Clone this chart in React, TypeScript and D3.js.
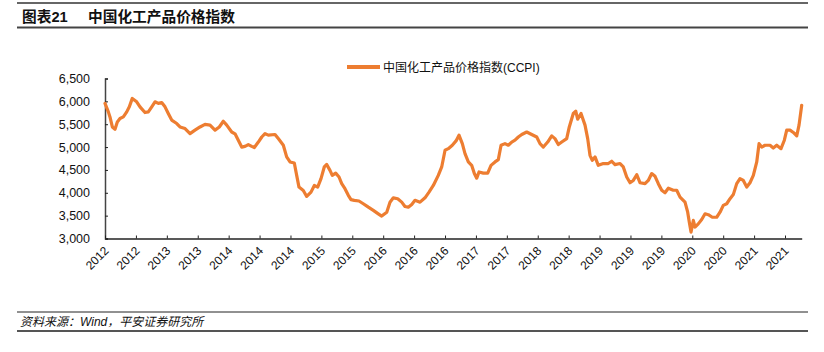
import { useEffect, useRef } from 'react';
import * as d3 from 'd3';

const TITLE_NO = '图表21';
const TITLE = '中国化工产品价格指数';
const SERIES_NAME = '中国化工产品价格指数(CCPI)';
const SOURCE = '资料来源：Wind，平安证券研究所';

const Y_TICKS = [3000, 3500, 4000, 4500, 5000, 5500, 6000, 6500];

const TICK_MONTHS = [
  '2012-05', '2012-10', '2013-03', '2013-08', '2014-01', '2014-06', '2014-11',
  '2015-04', '2015-09', '2016-02', '2016-07', '2016-12', '2017-05', '2017-10',
  '2018-03', '2018-08', '2019-01', '2019-06', '2019-11', '2020-04', '2020-09',
  '2021-02', '2021-07',
];
const TICK_LABELS = [
  '2012', '2012', '2013', '2013', '2014', '2014', '2014', '2015', '2015', '2016',
  '2016', '2016', '2017', '2017', '2018', '2018', '2019', '2019', '2019', '2020',
  '2020', '2021', '2021',
];

// decimal year of each reading
const YEARS = [
  2012.333, 2012.378, 2012.400, 2012.432, 2012.468, 2012.499, 2012.535, 2012.580, 2012.626, 2012.661,
  2012.701, 2012.760, 2012.805, 2012.872, 2012.917, 2012.963, 2013.007, 2013.052, 2013.097, 2013.142,
  2013.186, 2013.232, 2013.300, 2013.344, 2013.412, 2013.479, 2013.546, 2013.614, 2013.681, 2013.749,
  2013.816, 2013.874, 2013.928, 2013.974, 2014.041, 2014.086, 2014.130, 2014.176, 2014.220, 2014.265,
  2014.311, 2014.346, 2014.400, 2014.446, 2014.490, 2014.534, 2014.625, 2014.669, 2014.737, 2014.782,
  2014.827, 2014.885, 2014.917, 2014.948, 2015.006, 2015.052, 2015.110, 2015.155, 2015.200, 2015.245,
  2015.289, 2015.322, 2015.366, 2015.397, 2015.443, 2015.488, 2015.524, 2015.568, 2015.613, 2015.649,
  2015.694, 2015.757, 2015.815, 2015.883, 2015.950, 2016.017, 2016.063, 2016.131, 2016.175, 2016.220,
  2016.279, 2016.333, 2016.377, 2016.422, 2016.468, 2016.512, 2016.580, 2016.647, 2016.701, 2016.759,
  2016.826, 2016.872, 2016.917, 2016.961, 2017.015, 2017.065, 2017.105, 2017.150, 2017.186, 2017.231,
  2017.276, 2017.312, 2017.344, 2017.375, 2017.433, 2017.492, 2017.537, 2017.591, 2017.635, 2017.672,
  2017.725, 2017.770, 2017.816, 2017.860, 2017.905, 2017.951, 2018.018, 2018.085, 2018.153, 2018.197,
  2018.242, 2018.301, 2018.355, 2018.399, 2018.444, 2018.490, 2018.557, 2018.592, 2018.646, 2018.679,
  2018.705, 2018.750, 2018.804, 2018.840, 2018.871, 2018.902, 2018.939, 2018.983, 2019.051, 2019.118,
  2019.164, 2019.208, 2019.276, 2019.320, 2019.366, 2019.411, 2019.455, 2019.501, 2019.545, 2019.613,
  2019.657, 2019.703, 2019.748, 2019.792, 2019.838, 2019.882, 2019.927, 2019.994, 2020.040, 2020.085,
  2020.152, 2020.188, 2020.210, 2020.233, 2020.264, 2020.287, 2020.331, 2020.377, 2020.422, 2020.466,
  2020.520, 2020.579, 2020.624, 2020.668, 2020.714, 2020.759, 2020.803, 2020.849, 2020.893, 2020.938,
  2020.984, 2021.028, 2021.073, 2021.119, 2021.150, 2021.186, 2021.231, 2021.298, 2021.342, 2021.388,
  2021.446, 2021.491, 2021.523, 2021.568, 2021.612, 2021.658, 2021.689, 2021.725,
];

const VALUES = [
  5954, 5770, 5660, 5440, 5390, 5550, 5625, 5660, 5770, 5880,
  6065, 5990, 5880, 5755, 5770, 5880, 5990, 5955, 5975, 5880,
  5735, 5590, 5515, 5440, 5405, 5295, 5370, 5440, 5495, 5480,
  5370, 5440, 5565, 5480, 5330, 5290, 5150, 5000, 5015, 5055,
  5015, 4990, 5110, 5220, 5295, 5260, 5275, 5185, 5040, 4785,
  4675, 4650, 4380, 4125, 4050, 3920, 4015, 4160, 4125, 4310,
  4565, 4620, 4490, 4380, 4430, 4345, 4200, 4090, 3945, 3850,
  3835, 3820, 3760, 3685, 3615, 3540, 3490, 3575, 3795, 3890,
  3870, 3795, 3700, 3685, 3745, 3835, 3795, 3890, 4015, 4160,
  4380, 4565, 4930, 4965, 5040, 5135, 5260, 5075, 4855, 4675,
  4600, 4420, 4320, 4455, 4430, 4430, 4600, 4675, 4725, 5040,
  5075, 5040, 5110, 5150, 5220, 5275, 5330, 5275, 5220, 5075,
  5000, 5110, 5245, 5185, 5055, 5110, 5185, 5440, 5735, 5785,
  5610, 5735, 5480, 5185, 4820, 4710, 4785, 4600, 4640, 4640,
  4690, 4615, 4640, 4565, 4345, 4220, 4270, 4395, 4220, 4200,
  4270, 4420, 4360, 4200, 4055, 4000, 4100, 4055, 4055, 3905,
  3795, 3575, 3355, 3140, 3395, 3250, 3320, 3415, 3540, 3520,
  3465, 3465, 3575, 3725, 3760, 3870, 3960, 4200, 4310, 4270,
  4125, 4220, 4380, 4675, 5075, 5000, 5040, 5040, 4980, 5040,
  4965, 5150, 5370, 5370, 5320, 5245, 5480, 5915,
];

const ORANGE = '#ED7D31';
const FONT = '"Liberation Sans", Arial, "Noto Sans CJK SC", sans-serif';

const monthToYear = (m: string) => {
  const [y, mo] = m.split('-').map(Number);
  return y + (mo - 1) / 12;
};

export default function App() {
  const svgRef = useRef<SVGSVGElement>(null);

  useEffect(() => {
    const svg = d3.select(svgRef.current);
    svg.selectAll('*').remove();

    const width = 824;
    const height = 352;
    const plot = { left: 105, right: 801.7, top: 78.5, bottom: 238.5 };

    svg.attr('width', width).attr('height', height).attr('viewBox', `0 0 ${width} ${height}`);

    // frame lines
    const rules = [
      { y: 3, w: 1.5, c: '#333' },
      { y: 27.5, w: 2, c: '#444' },
      { y: 312, w: 1, c: '#222' },
      { y: 331, w: 2, c: '#555' },
    ];
    svg.append('g')
      .selectAll('line')
      .data(rules)
      .join('line')
      .attr('x1', 17).attr('x2', 808)
      .attr('y1', d => d.y).attr('y2', d => d.y)
      .attr('stroke', d => d.c)
      .attr('stroke-width', d => d.w);

    const title = svg.append('text')
      .attr('y', 21.5)
      .attr('font-family', FONT)
      .attr('font-weight', 'bold')
      .attr('font-size', 14.7)
      .attr('fill', '#111');
    title.append('tspan').attr('x', 22).text(TITLE_NO);
    title.append('tspan').attr('x', 88).text(TITLE);

    svg.append('text')
      .attr('x', 20).attr('y', 326)
      .attr('font-family', FONT)
      .attr('font-style', 'italic')
      .attr('font-size', 12)
      .attr('fill', '#111')
      .text(SOURCE);

    const x = d3.scaleLinear()
      .domain(d3.extent(YEARS) as [number, number])
      .range([plot.left, plot.right]);
    const y = d3.scaleLinear()
      .domain([3000, 6500])
      .range([plot.bottom, plot.top]);

    // legend
    const lg = svg.append('g');
    lg.append('line')
      .attr('x1', 347).attr('x2', 380)
      .attr('y1', 67).attr('y2', 67)
      .attr('stroke', ORANGE)
      .attr('stroke-width', 4);
    lg.append('text')
      .attr('x', 383).attr('y', 71.5)
      .attr('font-family', FONT)
      .attr('font-size', 12)
      .attr('fill', '#111')
      .text(SERIES_NAME);

    const yAxis = svg.append('g')
      .attr('transform', `translate(${plot.left},0)`)
      .call(d3.axisLeft(y).tickValues(Y_TICKS).tickFormat(d3.format(',')).tickSize(-3).tickPadding(15));
    yAxis.selectAll('text').attr('font-family', FONT).attr('font-size', 12.5).attr('fill', '#111');
    yAxis.selectAll('line').attr('stroke', '#222');
    yAxis.select('.domain').attr('stroke', '#444').attr('stroke-width', 1.5);

    const tickYears = TICK_MONTHS.map(monthToYear);
    const xAxis = svg.append('g')
      .attr('transform', `translate(0,${plot.bottom})`)
      .call(d3.axisBottom(x)
        .tickValues(tickYears)
        .tickFormat((_, i) => TICK_LABELS[i])
        .tickSize(-3)
        .tickSizeOuter(0));
    xAxis.select('.domain').attr('stroke', '#222').attr('stroke-width', 1.5);
    xAxis.selectAll('line').attr('stroke', '#222');
    xAxis.selectAll('text')
      .attr('font-family', FONT)
      .attr('font-size', 12)
      .attr('fill', '#111')
      .attr('text-anchor', 'end')
      .attr('dy', null)
      .attr('y', null)
      .attr('transform', 'translate(4,13) rotate(-45)');

    const line = d3.line<number>()
      .x((_, i) => x(YEARS[i]))
      .y(d => y(d));

    svg.append('path')
      .datum(VALUES)
      .attr('d', line)
      .attr('fill', 'none')
      .attr('stroke', ORANGE)
      .attr('stroke-width', 3.2)
      .attr('stroke-linejoin', 'round')
      .attr('stroke-linecap', 'round');
  }, []);

  return (
    <div style={{ position: 'absolute', left: 0, top: 0, width: 824, height: 352, background: '#fff' }}>
      <svg ref={svgRef} style={{ display: 'block' }} />
    </div>
  );
}
